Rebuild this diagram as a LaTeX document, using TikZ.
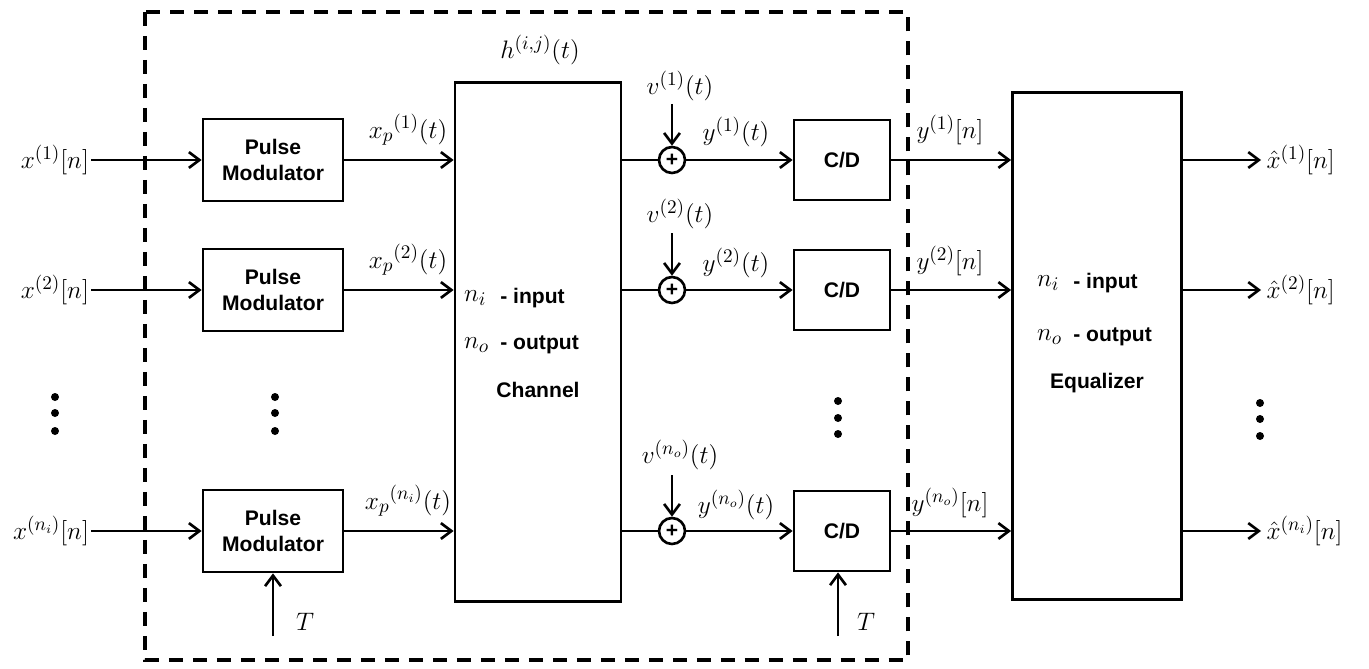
\documentclass[tikz,border=0pt]{standalone}
\usepackage{fontspec}
\setsansfont{Liberation Sans}
\usetikzlibrary{arrows.meta}
\tikzset{
  blk/.style={draw, line width=1.6pt, align=center, inner sep=0pt,
    font=\sffamily\bfseries\fontsize{12}{15}\selectfont},
  lbl/.style={font=\fontsize{15}{18}\selectfont, inner sep=1pt},
  txt/.style={font=\sffamily\bfseries\fontsize{12}{15}\selectfont, inner sep=0pt},
  sig/.style={line width=1.5pt, -{Straight Barb[length=6pt,width=9pt,line width=1.5pt]}},
  wire/.style={line width=1.5pt},
  adder/.style={circle, draw, line width=1.5pt, minimum size=0.52cm, inner sep=0pt,
    font=\sffamily\bfseries\fontsize{12}{12}\selectfont}
}
\begin{document}
\begin{tikzpicture}[x=0.02cm, y=-0.02cm]
    \useasboundingbox (0,0) rectangle (1369,669);
    % dashed frame
    \draw [line width=1.9pt, dash pattern=on 0.28cm off 0.2cm] (145,12) rectangle (908,660);

    % blocks
    \node [blk, minimum width=2.8cm, minimum height=1.64cm] (mod1) at (273,160) {Pulse\\Modulator};
    \node [blk, minimum width=2.8cm, minimum height=1.64cm] (mod2) at (273,290) {Pulse\\Modulator};
    \node [blk, minimum width=2.8cm, minimum height=1.64cm] (mod3) at (273,531) {Pulse\\Modulator};
    \node [blk, minimum width=3.32cm, minimum height=10.38cm] (chan) at (538,342) {};
    \node [blk, minimum width=1.92cm, minimum height=1.6cm] (cd1) at (842,160) {C/D};
    \node [blk, minimum width=1.92cm, minimum height=1.6cm] (cd2) at (842,290) {C/D};
    \node [blk, minimum width=1.92cm, minimum height=1.6cm] (cd3) at (842,531) {C/D};
    \node [blk, minimum width=3.38cm, minimum height=10.14cm] (eq) at (1097,346) {};
    \node [adder] (add1) at (672,160) {+};
    \node [adder] (add2) at (672,290) {+};
    \node [adder] (add3) at (672,531) {+};

    % texts inside channel and equalizer
    \node [lbl, anchor=west] (ni1) at (462,298) {$n_i$};
    \node [txt, anchor=west] (ni1t) at (500,298) {- input};
    \node [lbl, anchor=west] (no1) at (462,345) {$n_o$};
    \node [txt, anchor=west] (no1t) at (500,345) {- output};
    \node [txt] (chant) at (538,390) {Channel};
    \node [lbl] (hij) at (540,50) {$h^{(i,j)}(t)$};
    \node [lbl, anchor=west] (ni2) at (1035,283) {$n_i$};
    \node [txt, anchor=west] (ni2t) at (1073,283) {- input};
    \node [lbl, anchor=west] (no2) at (1035,337) {$n_o$};
    \node [txt, anchor=west] (no2t) at (1073,337) {- output};
    \node [txt] (eqt) at (1097,383) {Equalizer};

    % inputs
    \node [lbl, anchor=east] (in1) at (91,160) {$x^{(1)}[n]$};
    \node [lbl, anchor=east] (in2) at (91,290) {$x^{(2)}[n]$};
    \node [lbl, anchor=east] (in3) at (91,531) {$x^{(n_i)}[n]$};
    \draw [sig] (in1.east) -- (mod1.west);
    \draw [sig] (in2.east) -- (mod2.west);
    \draw [sig] (in3.east) -- (mod3.west);

    % modulator to channel
    \draw [sig] (mod1.east) -- (mod1.east -| chan.west);
    \draw [sig] (mod2.east) -- (mod2.east -| chan.west);
    \draw [sig] (mod3.east) -- (mod3.east -| chan.west);
    \node [lbl] (xp1) at (408,130) {$x_p{}^{(1)}(t)$};
    \node [lbl] (xp2) at (408,260) {$x_p{}^{(2)}(t)$};
    \node [lbl] (xp3) at (408,501) {$x_p{}^{(n_i)}(t)$};

    % channel to adders
    \draw [wire] (add1 -| chan.east) -- (add1.west);
    \draw [wire] (add2 -| chan.east) -- (add2.west);
    \draw [wire] (add3 -| chan.east) -- (add3.west);

    % noise
    \node [lbl] (v1) at (680,86) {$v^{(1)}(t)$};
    \node [lbl] (v2) at (680,214) {$v^{(2)}(t)$};
    \node [lbl] (v3) at (680,455) {$v^{(n_o)}(t)$};
    \coordinate (vt1) at (672,104);
    \coordinate (vt2) at (672,233);
    \coordinate (vt3) at (672,475);
    \draw [sig] (vt1) -- (add1.north);
    \draw [sig] (vt2) -- (add2.north);
    \draw [sig] (vt3) -- (add3.north);

    % adders to C/D
    \draw [sig] (add1.east) -- (cd1.west);
    \draw [sig] (add2.east) -- (cd2.west);
    \draw [sig] (add3.east) -- (cd3.west);
    \node [lbl] (y1) at (736,132) {$y^{(1)}(t)$};
    \node [lbl] (y2) at (736,263) {$y^{(2)}(t)$};
    \node [lbl] (y3) at (736,505) {$y^{(n_o)}(t)$};

    % C/D to equalizer
    \draw [sig] (cd1.east) -- (cd1.east -| eq.west);
    \draw [sig] (cd2.east) -- (cd2.east -| eq.west);
    \draw [sig] (cd3.east) -- (cd3.east -| eq.west);
    \node [lbl] (yn1) at (950,130) {$y^{(1)}[n]$};
    \node [lbl] (yn2) at (950,261) {$y^{(2)}[n]$};
    \node [lbl] (yn3) at (950,503) {$y^{(n_o)}[n]$};

    % outputs
    \node [lbl, anchor=west, inner sep=3pt] (out1) at (1261,160) {$\hat{x}^{(1)}[n]$};
    \node [lbl, anchor=west, inner sep=3pt] (out2) at (1261,290) {$\hat{x}^{(2)}[n]$};
    \node [lbl, anchor=west, inner sep=3pt] (out3) at (1261,531) {$\hat{x}^{(n_i)}[n]$};
    \draw [sig] (out1.west -| eq.east) -- (out1.west);
    \draw [sig] (out2.west -| eq.east) -- (out2.west);
    \draw [sig] (out3.west -| eq.east) -- (out3.west);

    % sampling period
    \coordinate (Tb1) at (273,636);
    \coordinate (Tb2) at (838,636);
    \draw [sig] (Tb1) -- (Tb1 |- mod3.south);
    \draw [sig] (Tb2) -- (Tb2 |- cd3.south);
    \node [lbl] (T1) at (305,622) {$T$};
    \node [lbl] (T2) at (866,622) {$T$};

    % dots
    \foreach \y in {397,413,431} {
      \fill (55,\y) circle (0.08cm);
      \fill (275,\y) circle (0.08cm);
    }
    \foreach \y in {401,418,434} \fill (838,\y) circle (0.08cm);
    \foreach \y in {403,419,436} \fill (1260,\y) circle (0.08cm);
\end{tikzpicture}
\end{document}
